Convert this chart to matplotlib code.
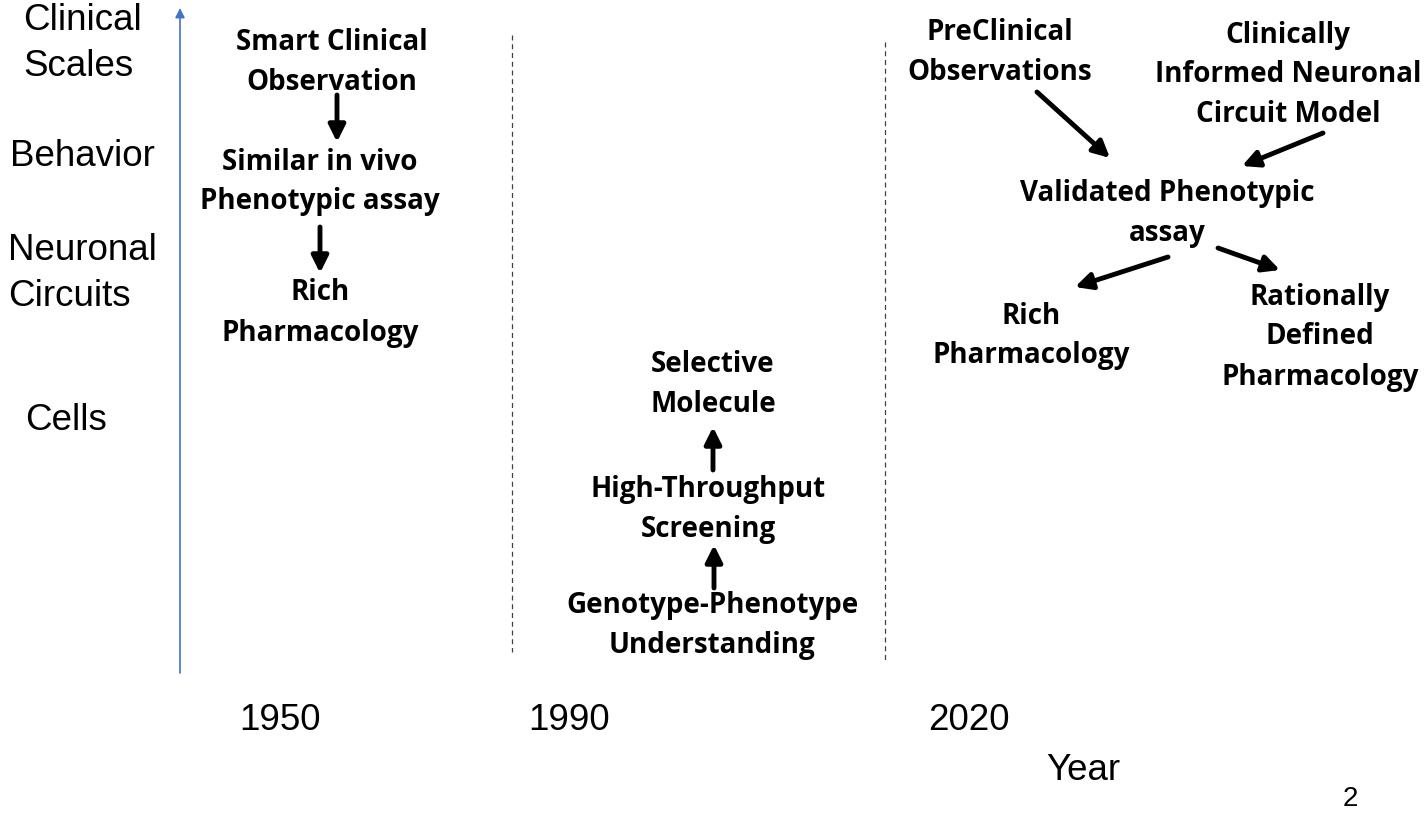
import matplotlib
matplotlib.use('Agg')
import matplotlib.pyplot as plt

# left axis labels (levels)
levels = ['Clinical\nScales', 'Behavior', 'Neuronal\nCircuits', 'Cells']
level_pos = [(23, 21), (10, 156), (8, 251), (25, 420)]

# eras on the x axis
years = ['1950', '1990', '2020']
year_x = [280, 569, 969]

# boxes of the diagram (bold text)
nodes = [
    'Smart Clinical\nObservation',
    'Similar in vivo\nPhenotypic assay',
    'Rich\nPharmacology',
    'Selective\nMolecule',
    'High-Throughput\nScreening',
    'Genotype-Phenotype\nUnderstanding',
    'PreClinical\nObservations',
    'Clinically\nInformed Neuronal\nCircuit Model',
    'Validated Phenotypic\nassay',
    'Rich\nPharmacology',
    'Rationally\nDefined\nPharmacology',
]
node_pos = [(332, 42), (320, 162), (320, 293), (713, 364), (708, 489),
            (712, 606), (1000, 33), (1288, 35), (1167, 193), (1031, 316),
            (1320, 297)]

# arrows (start, end)
arrows = [((337, 95), (337, 142)), ((320, 227), (320, 273)),
          ((713, 470), (713, 427)), ((714, 588), (714, 545)),
          ((1037, 92), (1110, 158)), ((1323, 133), (1242, 166)),
          ((1168, 257), (1075, 287)), ((1218, 248), (1280, 270))]

fig = plt.figure(figsize=(14.24, 8.16), dpi=100)
ax = fig.add_axes([0, 0, 1, 1])
ax.set_xlim(0, 1424)
ax.set_ylim(816, 0)
ax.axis('off')

bold = dict(family='Open Sans', weight='bold', fontsize=20, color='black',
            ha='center', va='center')
plain = dict(family='Liberation Sans', fontsize=26.5, color='black', va='center')

for lab, (x, y) in zip(levels, level_pos):
    for i, line in enumerate(lab.split('\n')):
        ax.text(x, y + i * 45, line, ha='left', **plain)

for lab, (x, y) in zip(nodes, node_pos):
    for i, line in enumerate(lab.split('\n')):
        ax.text(x, y + i * 40, line, **bold)

for (a, b) in arrows:
    ax.annotate('', xy=b, xytext=a,
                arrowprops=dict(arrowstyle='-|>', lw=3.5, color='black',
                                mutation_scale=25, shrinkA=0, shrinkB=0))

# vertical axis arrow
ax.annotate('', xy=(180, 8), xytext=(180, 673),
            arrowprops=dict(arrowstyle='-|>', lw=1.2, color='#4472C4',
                            mutation_scale=14, shrinkA=0, shrinkB=0))

# era separators
ax.plot([512, 512], [35, 652], ls=(0, (4, 3)), color='#404040', lw=0.9)
ax.plot([885, 885], [42, 660], ls=(0, (4, 3)), color='#404040', lw=0.9)

for y, x in zip(years, year_x):
    ax.text(x, 721, y, ha='center', **plain)
ax.text(1083, 771, 'Year', ha='center', **plain)
ax.text(1350, 799, '2', ha='center', family='Liberation Sans', fontsize=20,
        va='center')

fig.savefig('out.png', dpi=100)
